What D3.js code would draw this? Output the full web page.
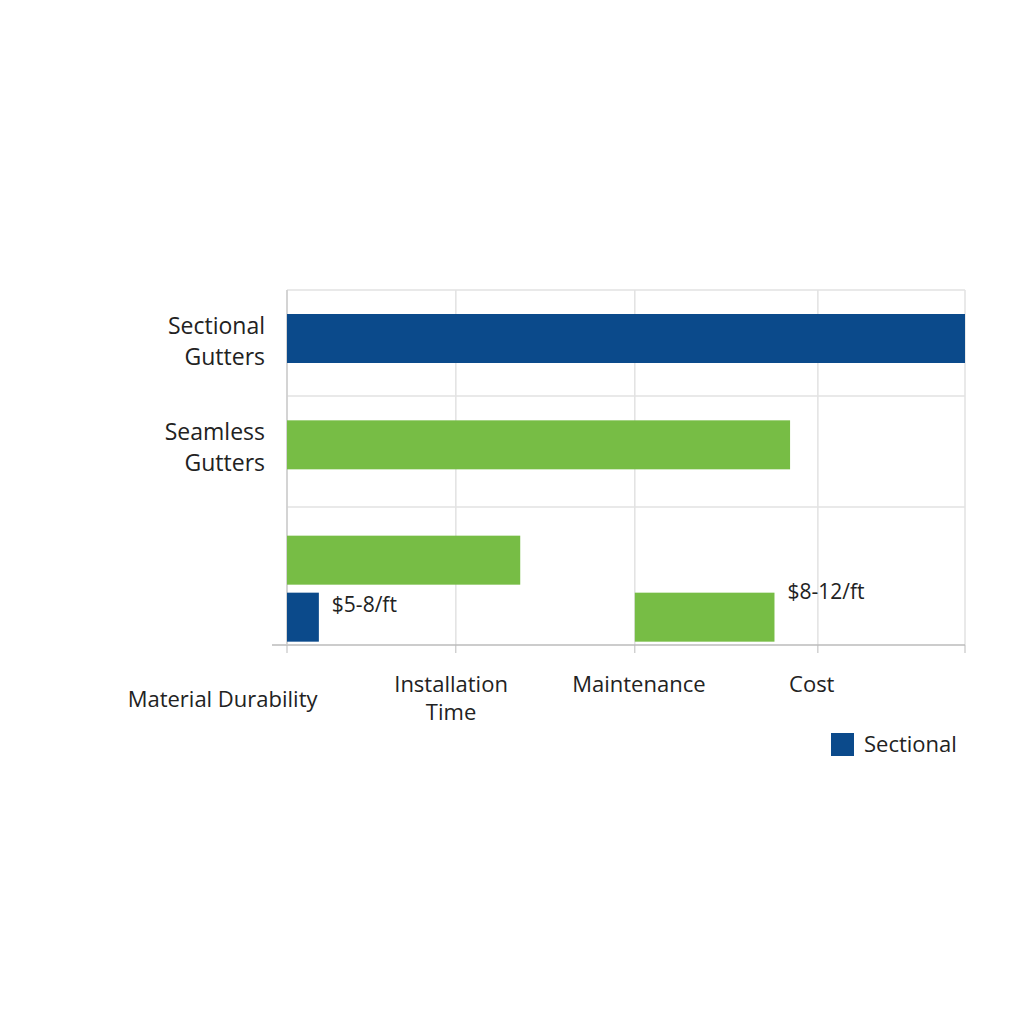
<!DOCTYPE html>
<html><head><meta charset="utf-8">
<script src="https://cdn.jsdelivr.net/npm/d3@7"></script>
<style>body{margin:0;background:#fff}text{font-family:"Open Sans","Noto Sans",sans-serif;fill:#222}</style>
</head><body><svg id="c" width="1024" height="1024"></svg>
<script>
const rows = ["Sectional Gutters", "Seamless Gutters", "Row3"];
const rowLabels = [["Sectional","Gutters"],["Seamless","Gutters"],[]];
// bars: row, sub (0 top / 1 bottom / -1 full), start, end, series, label
const barRow = ["Sectional Gutters","Seamless Gutters","Row3","Row3","Row3"];
const barSub = ["mid","mid","top","bot","bot"];
const barStart = [0,0,0,0,51.3];
const barEnd = [100,74.2,34.4,4.7,71.9];
const barSeries = ["Sectional","Seamless","Seamless","Sectional","Seamless"];
const barLabel = ["","","","$5-8/ft","$8-12/ft"];
const gridX = [0,24.9,51.3,78.3,100];
const xCats = [["Material Durability"],["Installation","Time"],["Maintenance"],["Cost"]];
const xCatPos = [-9.5,24.2,51.9,77.4];
const xCatDy = [15,0,0,0];
const legendItems = ["Sectional"];
const colors = {Sectional:"#0b4a8b", Seamless:"#77bd45"};

const svg = d3.select("#c");
const x = d3.scaleLinear().domain([0,100]).range([287,965]);
const y = d3.scaleBand().domain(rows).range([290,645]);
// horizontal grid
const hLines = [290,396,507];
svg.selectAll(".hg").data(hLines).join("line").attr("x1",287).attr("x2",965)
 .attr("y1",d=>d).attr("y2",d=>d).attr("stroke","#e2e2e2").attr("stroke-width",1.5);
svg.selectAll(".vg").data(gridX).join("line").attr("x1",d=>x(d)).attr("x2",d=>x(d))
 .attr("y1",290).attr("y2",645).attr("stroke","#e2e2e2").attr("stroke-width",1.5);
// axis
svg.append("line").attr("x1",272).attr("x2",965).attr("y1",645).attr("y2",645).attr("stroke","#bbb").attr("stroke-width",1.5);
svg.selectAll(".tk").data(gridX).join("line").attr("x1",d=>x(d)).attr("x2",d=>x(d))
 .attr("y1",645).attr("y2",653).attr("stroke","#bbb");
// left axis line
svg.append("line").attr("x1",287).attr("x2",287).attr("y1",290).attr("y2",645).attr("stroke","#ccc").attr("stroke-width",1.5);

const subY = {mid:[24,49],top:[9,49],bot:[66,49]};
function yy(i){return y(barRow[i]) + (barRow[i]==="Row3"? (barSub[i]==="top"?-1:56): (i===0?24:24)) ;}
const bars = barRow.map((r,i)=>i);
const rowTop = {"Sectional Gutters":314,"Seamless Gutters":420};
svg.selectAll(".bar").data(bars).join("rect")
 .attr("x",i=>x(barStart[i])).attr("width",i=>x(barEnd[i])-x(barStart[i]))
 .attr("y",i=>barRow[i]==="Row3"?(barSub[i]==="top"?y("Row3")+9:y("Row3")+66):y(barRow[i])+ (i===0?24:12))
 .attr("height",49).attr("fill",i=>colors[barSeries[i]]);
svg.selectAll(".bl").data(bars.filter(i=>barLabel[i])).join("text")
 .attr("x",i=>x(barEnd[i])+13).attr("y",i=>i===3?612:599)
 .attr("font-size",21).text(i=>barLabel[i]);
// row labels
rows.forEach((r,i)=>{
  const t = svg.append("text").attr("text-anchor","end").attr("x",265).attr("font-size",23);
  const base = i===0?334:440;
  rowLabels[i].forEach((l,j)=>t.append("tspan").attr("x",265).attr("y",base+j*31).text(l));
});
// x categories
xCats.forEach((c,i)=>{
  const t = svg.append("text").attr("text-anchor","middle").attr("font-size",22);
  c.forEach((l,j)=>t.append("tspan").attr("x",x(xCatPos[i])).attr("y",692+xCatDy[i]+j*28).text(l));
});
// legend
legendItems.forEach((l,i)=>{
  svg.append("rect").attr("x",831).attr("y",733).attr("width",23).attr("height",23).attr("fill",colors[l]);
  svg.append("text").attr("x",864).attr("y",752).attr("font-size",22).text(l);
});
</script></body></html>
